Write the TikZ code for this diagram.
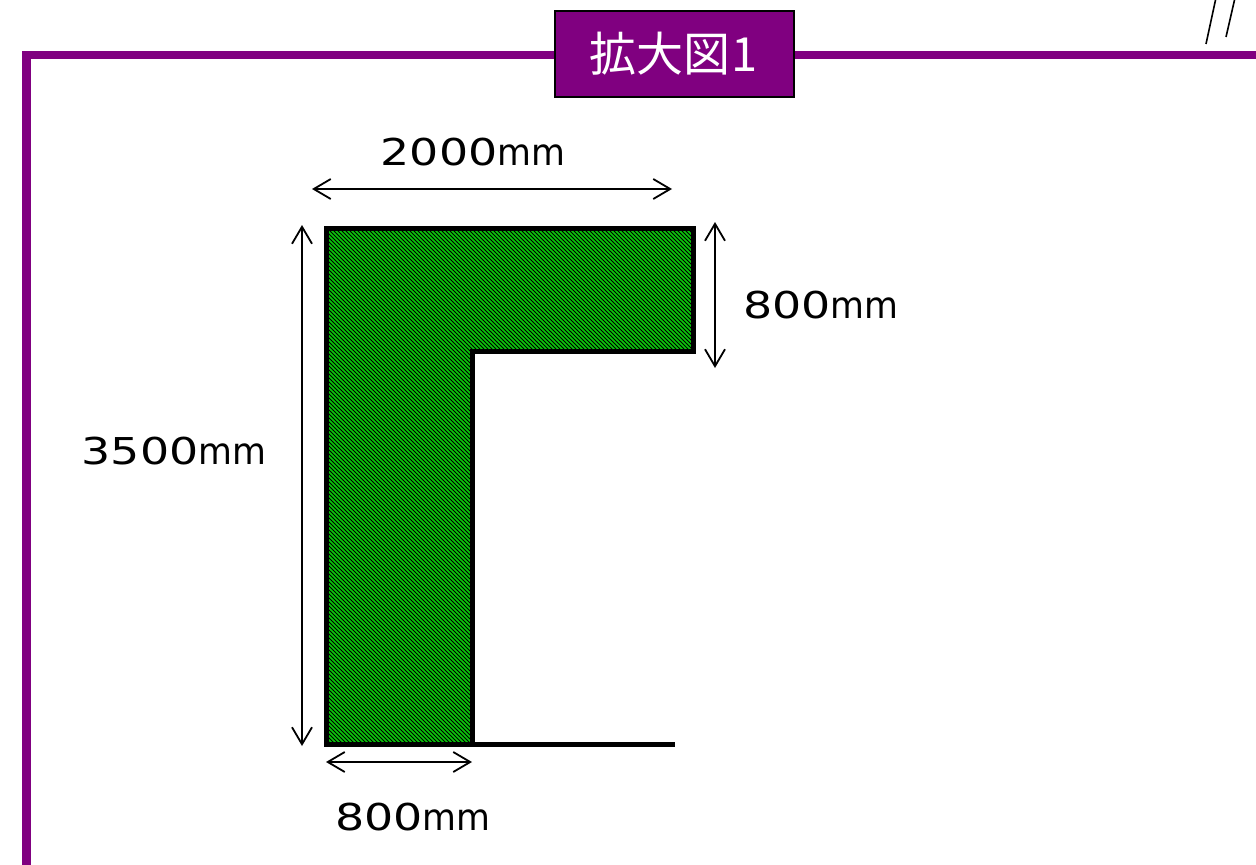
\documentclass[tikz,border=0pt]{standalone}
\usepackage{fontspec}
\setmainfont{DejaVu Sans}
\newfontfamily\cjkfont{Noto Sans CJK JP}
\usetikzlibrary{arrows.meta,patterns.meta}
\definecolor{framepurple}{RGB}{128,0,128}
\definecolor{panelgreen}{RGB}{10,200,10}
\newcommand{\mmlabel}[1]{\scalebox{1.24}[1]{#1}\scalebox{0.94}[1]{mm}}
\tikzset{
  dimline/.style={draw=black,line width=1.6pt,{Straight Barb[length=17pt,width=20pt,line width=1.8pt]}-{Straight Barb[length=17pt,width=20pt,line width=1.8pt]}},
  dimlabel/.style={font=\fontsize{37}{37}\selectfont,inner sep=0pt,text=black},
  wall/.style={draw=black,line width=5pt,miter limit=10}
}
\begin{document}
\begin{tikzpicture}[x=1pt,y=-1pt]
  \useasboundingbox (0,0) rectangle (1256,865);

  % frame and its title
  \coordinate (fl) at (26.5,865);
  \coordinate (fc) at (26.5,55);
  \coordinate (fr) at (1256,55);
  \draw[framepurple,line width=8.5pt,line join=miter] (fl) -- (fc) -- (fr);
  \node (title) at (674,54) [draw=black,line width=2pt,fill=framepurple,text=white,minimum width=239pt,minimum height=86pt,inner sep=0pt,font=\fontsize{47}{47}\selectfont] {\cjkfont 拡大図\hspace{1pt}1};

  % the two strokes at the top
  \coordinate (s0) at (1215.5,0);
  \coordinate (s1) at (1206,44);
  \coordinate (t0) at (1234.5,0);
  \coordinate (t1) at (1226,37);
  \draw[line width=1.6pt] (s0) -- (s1);
  \draw[line width=1.6pt] (t0) -- (t1);

  % corners of the shape
  \coordinate (a) at (326,228);
  \coordinate (b) at (693,228);
  \coordinate (c) at (693,351.5);
  \coordinate (d) at (472.5,351.5);
  \coordinate (e) at (472.5,744.5);
  \coordinate (f) at (326,744.5);
  \coordinate (g) at (675,744.5);
  \fill[panelgreen] (a) -- (b) -- (c) -- (d) -- (e) -- (f) -- cycle;
  \fill[pattern={Lines[angle=-45,distance=2.8284pt,line width=1pt]},pattern color=black] (a) -- (b) -- (c) -- (d) -- (e) -- (f) -- cycle;
  \draw[wall] (a) -- (b) -- (c) -- (d) -- (e) -- (f) -- cycle;
  \draw[wall] (e) -- (g);

  % ends of the measures
  \coordinate (w0) at (312,189);
  \coordinate (w1) at (672,189);
  \coordinate (h0) at (302,225);
  \coordinate (h1) at (302,746);
  \coordinate (r0) at (715,222);
  \coordinate (r1) at (715,368);
  \coordinate (u0) at (326,762);
  \coordinate (u1) at (472,762);
  \draw[dimline] (w0) -- (w1);
  \draw[dimline] (h0) -- (h1);
  \draw[dimline] (r0) -- (r1);
  \draw[dimline] (u0) -- (u1);

  \node (wlabel) at (473,152) [dimlabel] {\mmlabel{2000}};
  \node (rlabel) at (821,305) [dimlabel] {\mmlabel{800}};
  \node (hlabel) at (174,451) [dimlabel] {\mmlabel{3500}};
  \node (ulabel) at (413,817) [dimlabel] {\mmlabel{800}};

\end{tikzpicture}
\end{document}
